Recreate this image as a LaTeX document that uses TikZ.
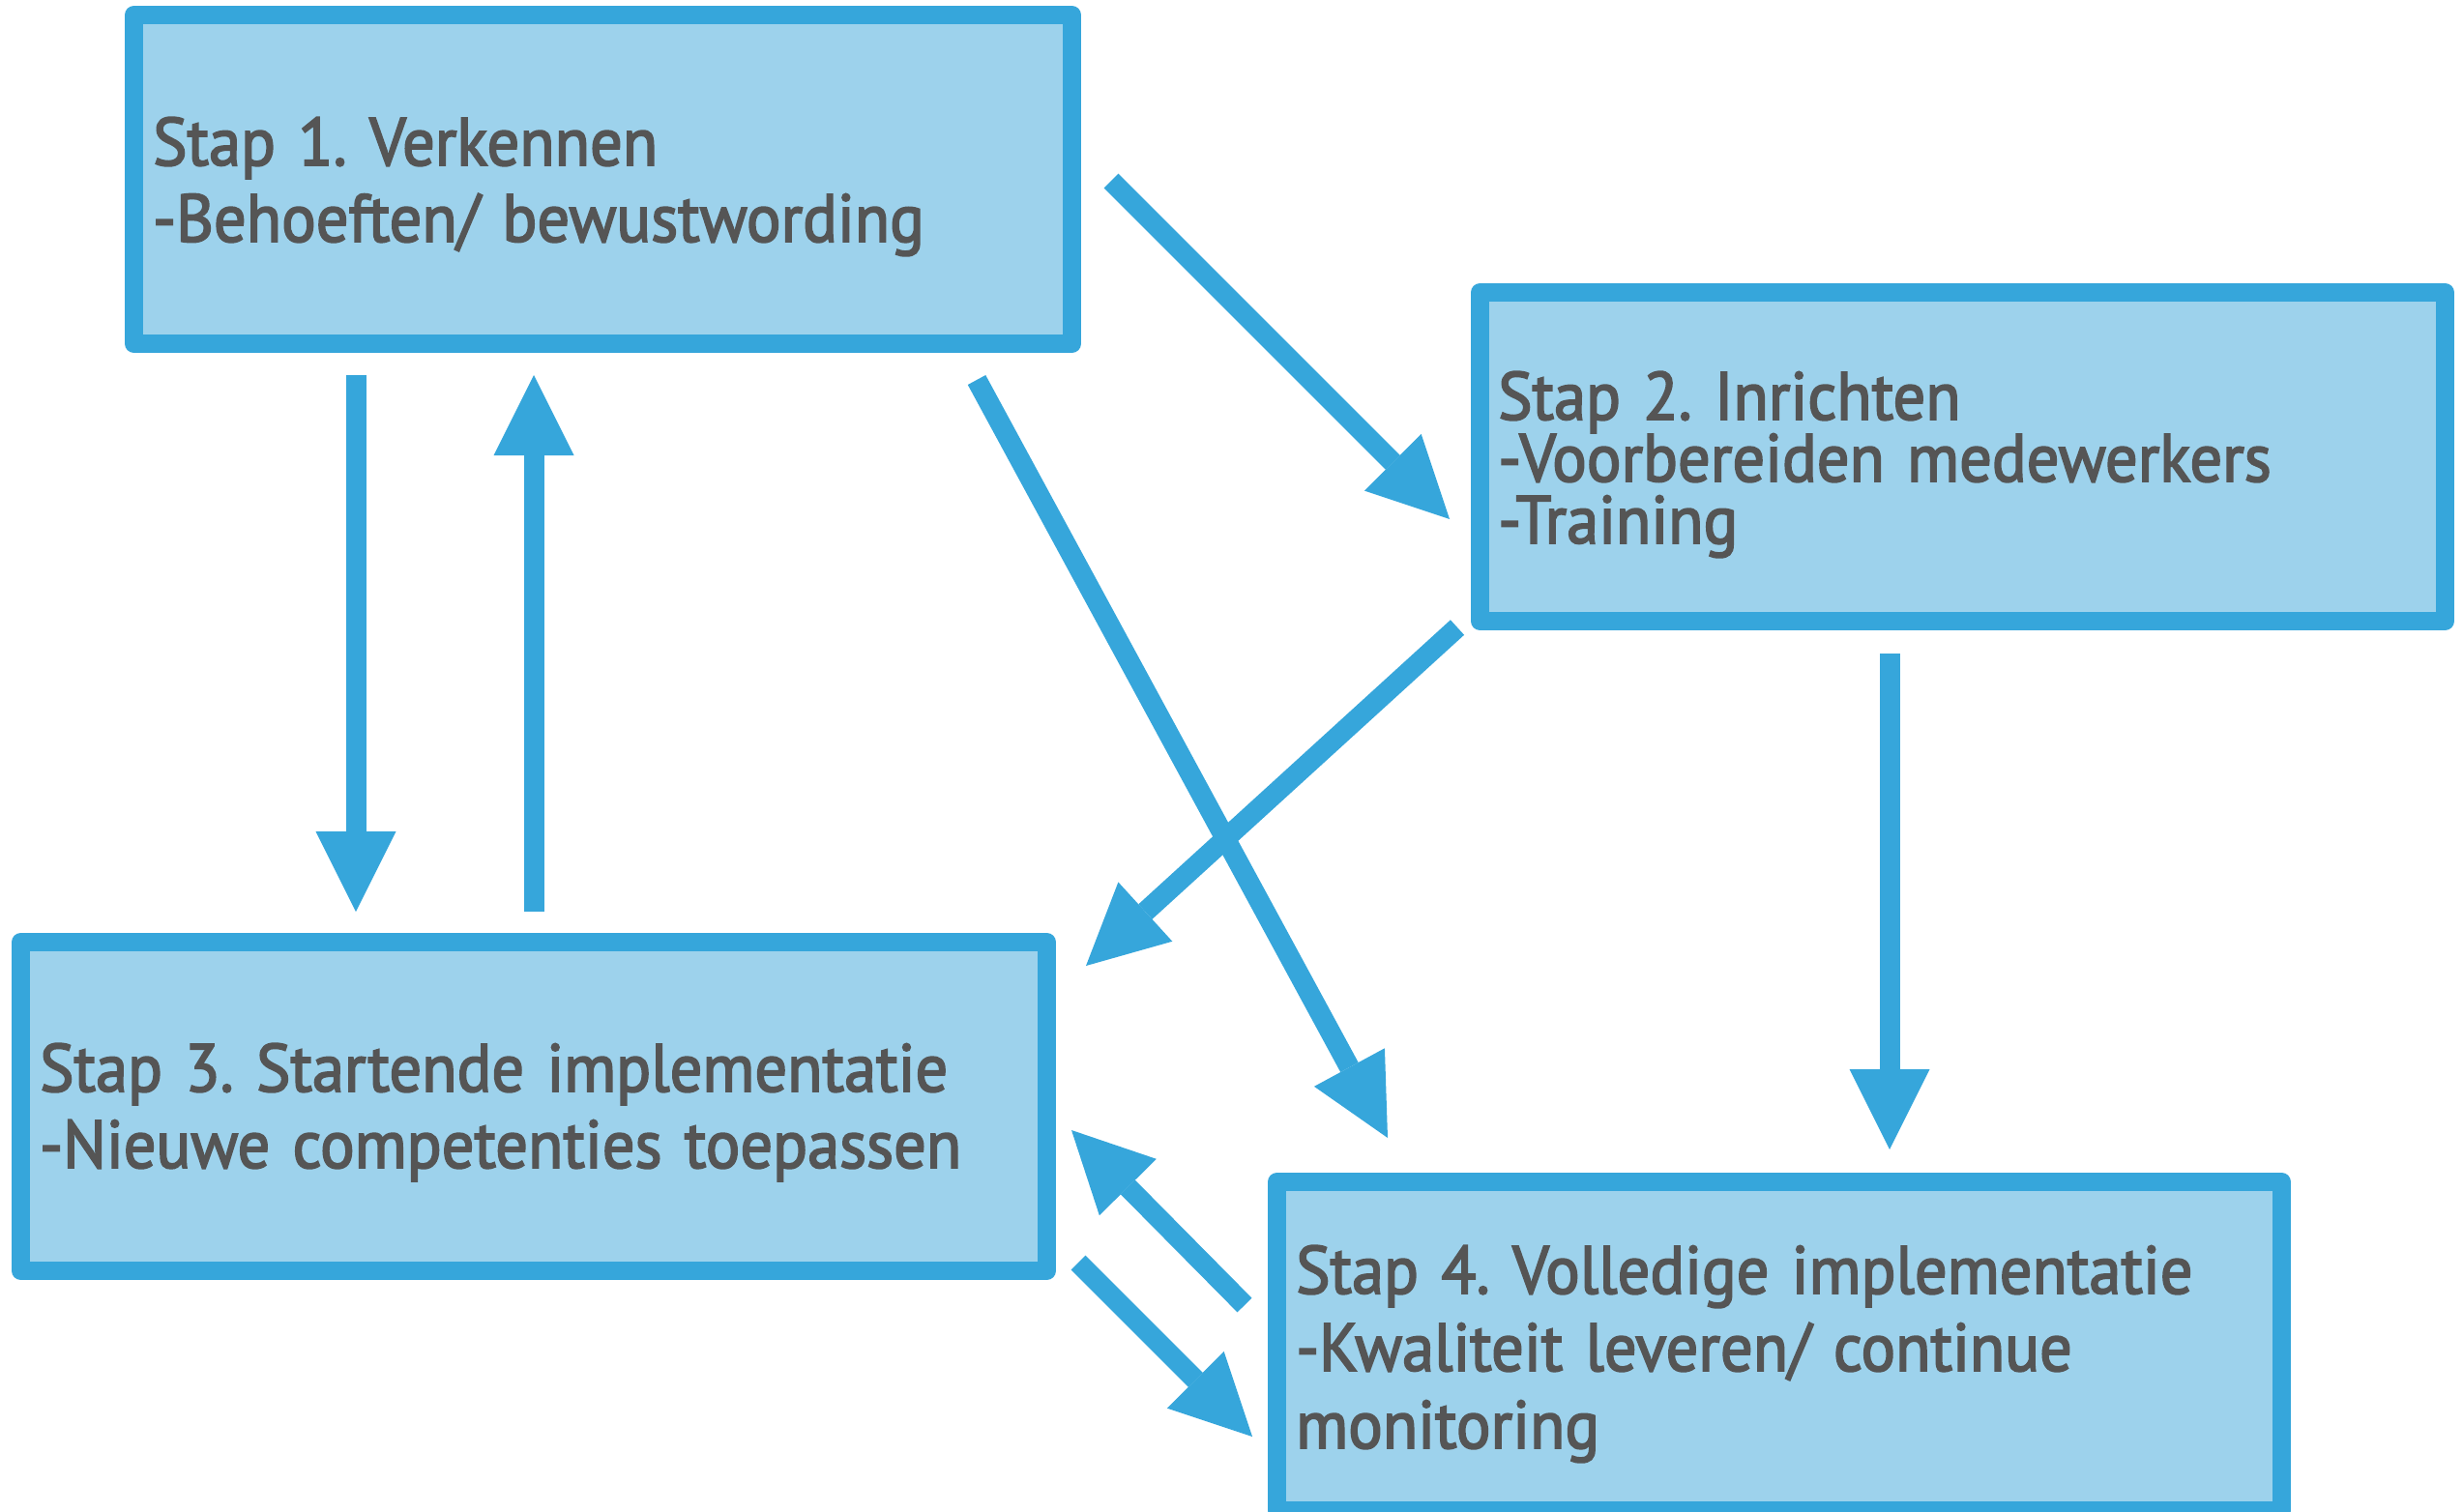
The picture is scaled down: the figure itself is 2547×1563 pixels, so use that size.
\documentclass[tikz,border=0pt]{standalone}
\usepackage{fontspec}
\setmainfont{PT Sans}[FakeStretch=0.95,FakeBold=2.5]
\usetikzlibrary{arrows.meta}
\definecolor{stepblue}{HTML}{36A6DB}
\definecolor{stepfill}{HTML}{9DD2EC}
\definecolor{steptext}{HTML}{555555}

\begin{document}
\frenchspacing
\begin{tikzpicture}[x=1pt,y=-1pt,
  stepbox/.style={draw=stepblue, fill=stepfill, line width=19pt, line join=round,
    rectangle, inner sep=0pt, minimum height=340pt},
  steplabel/.style={anchor=base west, inner sep=0pt, align=left, text width=1200pt,
    text=steptext, font=\fontsize{70}{79}\selectfont},
  flow/.style={draw=stepblue, line width=21pt,
    -{Triangle[length=83pt,width=83pt,line width=0pt]}}]

\useasboundingbox (0,0) rectangle (2547,1563);
\fill[white] (0,0) rectangle (2547,1563);

% the four phases
\node[stepbox, minimum width=970pt]  (s1) at (623.5,185.5) {};
\node[stepbox, minimum width=998pt]  (s2) at (2029.5,472.5) {};
\node[stepbox, minimum width=1061pt] (s3) at (552,1144.5) {};
\node[stepbox, minimum width=1039pt] (s4) at (1840,1392.5) {};

\node[steplabel] (t1) at (158,171) {Stap 1. Verkennen\\-Behoeften/ bewustwording};
\node[steplabel, font=\fontsize{70}{64}\selectfont] (t2) at (1549,434)
  {Stap 2. Inrichten\\-Voorbereiden medewerkers\\-Training};
\node[steplabel] (t3) at (41,1129) {Stap 3. Startende implementatie\\-Nieuwe competenties toepassen};
\node[steplabel, font=\fontsize{70}{80}\selectfont] (t4) at (1340,1338)
  {Stap 4. Volledige implementatie\\-Kwaliteit leveren/ continue\\monitoring};

% arrow end points
\coordinate (a13s) at (368,388);  \coordinate (a13e) at (368,943);
\coordinate (a31s) at (552,943);  \coordinate (a31e) at (552,388);
\coordinate (a12s) at (1149,187); \coordinate (a12e) at (1499,537);
\coordinate (a14s) at (1010,393); \coordinate (a14e) at (1435,1177);
\coordinate (a23s) at (1507,649); \coordinate (a23e) at (1123,999);
\coordinate (a24s) at (1954,676); \coordinate (a24e) at (1954,1189);
\coordinate (a43s) at (1287,1350); \coordinate (a43e) at (1108,1169);
\coordinate (a34s) at (1115,1306); \coordinate (a34e) at (1295,1486);

\draw[flow] (a13s) -- (a13e);
\draw[flow] (a31s) -- (a31e);
\draw[flow] (a12s) -- (a12e);
\draw[flow] (a14s) -- (a14e);
\draw[flow] (a23s) -- (a23e);
\draw[flow] (a24s) -- (a24e);
\draw[flow] (a43s) -- (a43e);
\draw[flow] (a34s) -- (a34e);
\end{tikzpicture}
\end{document}
